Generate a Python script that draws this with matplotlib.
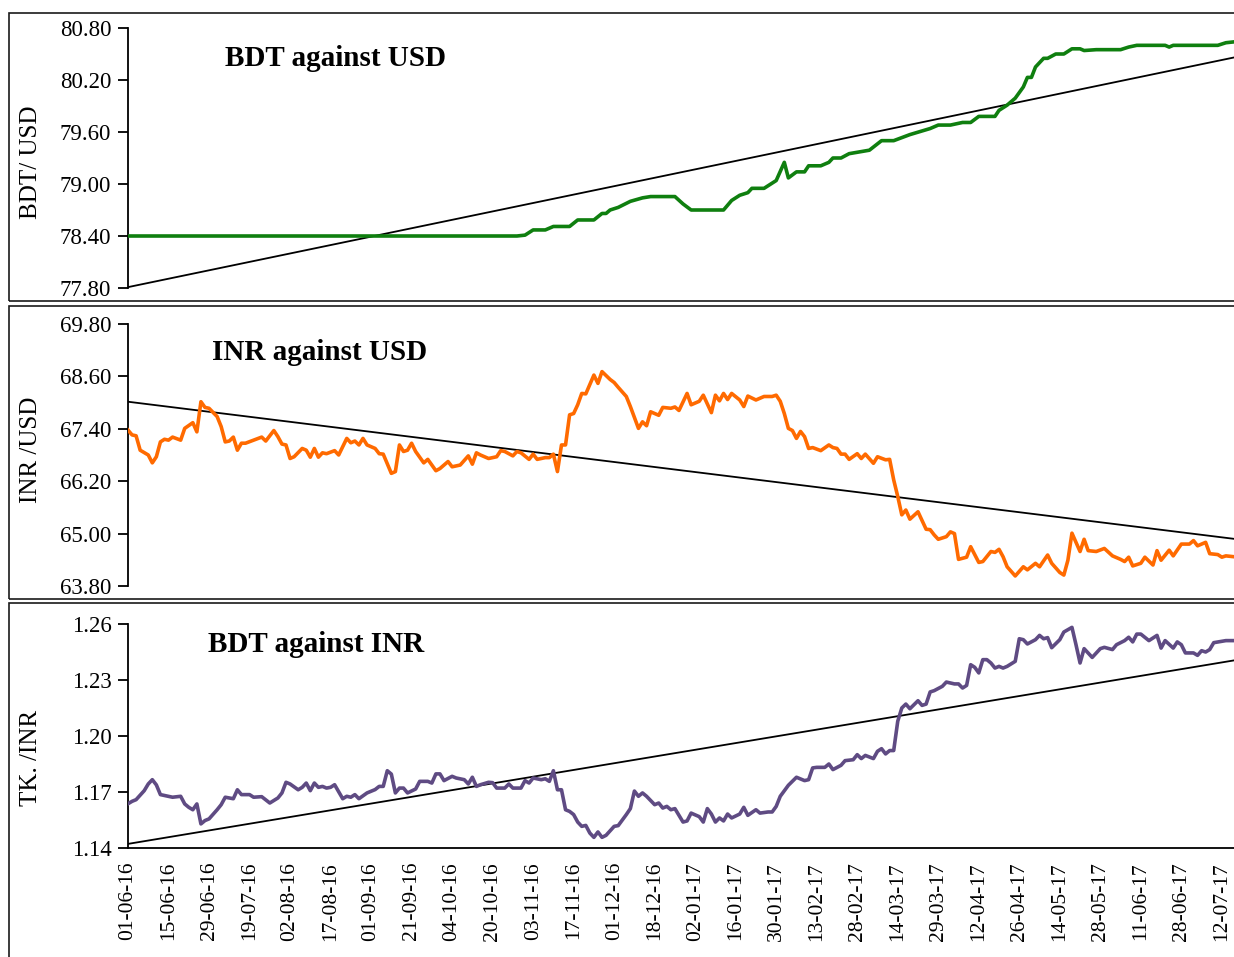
import matplotlib
matplotlib.use("Agg")
import matplotlib.pyplot as plt
from matplotlib.patches import Rectangle
from matplotlib.ticker import FormatStrFormatter

plt.rcParams['font.family'] = ['Liberation Serif', 'DejaVu Serif']

# ---------------- data ----------------
date_labels = ["01-06-16", "15-06-16", "29-06-16", "19-07-16", "02-08-16", "17-08-16",
               "01-09-16", "21-09-16", "04-10-16", "20-10-16", "03-11-16", "17-11-16",
               "01-12-16", "18-12-16", "02-01-17", "16-01-17", "30-01-17", "13-02-17",
               "28-02-17", "14-03-17", "29-03-17", "12-04-17", "26-04-17", "14-05-17",
               "28-05-17", "11-06-17", "28-06-17", "12-07-17"]
n_obs = 274  # observation index 0..273

# BDT against USD
bdt_usd_idx = [0, 96, 98, 100, 103, 105, 109, 111, 115, 117, 118, 119, 121, 124, 127, 129, 135, 137, 139, 147,
               149, 151, 153, 154, 157, 158, 160, 162, 163, 165, 167, 168, 171, 173, 174, 176, 178, 183, 186, 189,
               193, 198, 200, 203, 206, 208, 210, 214, 215, 217, 219, 221, 222, 223, 224, 226, 227, 229, 231, 233,
               235, 236, 239, 245, 247, 249, 256, 257, 258, 269, 271, 273]
bdt_usd_val = [78.40, 78.40, 78.41, 78.47, 78.47, 78.51, 78.51, 78.585, 78.585, 78.66, 78.66, 78.70, 78.73, 78.80,
               78.84, 78.855, 78.855, 78.77, 78.70, 78.70, 78.81, 78.87, 78.90, 78.95, 78.95, 78.98, 79.04, 79.25,
               79.07, 79.14, 79.14, 79.21, 79.21, 79.25, 79.30, 79.30, 79.35, 79.39, 79.50, 79.50, 79.57, 79.64,
               79.68, 79.68, 79.71, 79.71, 79.78, 79.78, 79.85, 79.91, 79.99, 80.12, 80.23, 80.23, 80.35, 80.45,
               80.45, 80.50, 80.50, 80.56, 80.56, 80.54, 80.55, 80.55, 80.58, 80.60, 80.60, 80.58, 80.60, 80.60,
               80.63, 80.64]
bdt_usd_trend = [77.81, 80.46]

# INR against USD
inr_usd_idx = [0, 1, 2, 3, 5, 6, 7, 8, 9, 10, 11, 13, 14, 16, 17, 18, 19, 20, 22, 23, 24, 25, 26, 27, 28, 29, 31, 33,
               34, 36, 37, 38, 39, 40, 41, 43, 44, 45, 46, 47, 48, 49, 51, 52, 54, 55, 56, 57, 58, 59, 61, 62, 63,
               65, 66, 67, 68, 69, 70, 71, 73, 74, 76, 77, 79, 80, 82, 84, 85, 86, 87, 89, 91, 92, 93, 95, 96, 97,
               99, 100, 101, 103, 104, 105, 106, 107, 108, 109, 110, 111, 112, 113, 115, 116, 117, 119, 120, 121,
               123, 124, 126, 127, 128, 129, 131, 132, 134, 135, 136, 138, 139, 141, 142, 144, 145, 146, 147, 148,
               149, 151, 152, 153, 155, 157, 159, 160, 161, 162, 163, 164, 165, 166, 167, 168, 169, 171, 173, 174,
               175, 176, 177, 178, 180, 181, 182, 184, 185, 187, 188, 189, 190, 191, 192, 193, 195, 197, 198, 199,
               200, 202, 203, 204, 205, 207, 208, 210, 211, 213, 214, 215, 216, 217, 219, 221, 222, 224, 225, 227,
               228, 230, 231, 232, 233, 235, 236, 237, 239, 241, 243, 245, 246, 247, 248, 250, 251, 253, 254, 255,
               257, 258, 260, 262, 263, 264, 266, 267, 269, 270, 271, 273]
inr_usd_val = [67.37, 67.26, 67.24, 66.91, 66.80, 66.62, 66.76, 67.10, 67.16, 67.14, 67.21, 67.14, 67.41, 67.54,
               67.33, 68.02, 67.89, 67.87, 67.68, 67.45, 67.10, 67.12, 67.21, 66.91, 67.07, 67.07, 67.14, 67.21,
               67.12, 67.36, 67.22, 67.05, 67.03, 66.72, 66.76, 66.95, 66.91, 66.75, 66.95, 66.75, 66.85, 66.83,
               66.90, 66.80, 67.18, 67.08, 67.12, 67.03, 67.18, 67.03, 66.95, 66.83, 66.82, 66.38, 66.42, 67.03,
               66.88, 66.91, 67.07, 66.88, 66.62, 66.70, 66.44, 66.49, 66.65, 66.53, 66.57, 66.78, 66.59, 66.85,
               66.80, 66.72, 66.76, 66.90, 66.88, 66.78, 66.88, 66.85, 66.70, 66.82, 66.70, 66.74, 66.74, 66.82,
               66.42, 67.03, 67.03, 67.72, 67.75, 67.95, 68.21, 68.20, 68.63, 68.44, 68.71, 68.53, 68.46, 68.35,
               68.14, 67.91, 67.41, 67.56, 67.47, 67.79, 67.71, 67.89, 67.87, 67.90, 67.82, 68.21, 67.95, 68.03,
               68.17, 67.77, 68.17, 68.04, 68.21, 68.07, 68.21, 68.06, 67.91, 68.15, 68.06, 68.14, 68.14, 68.17,
               68.03, 67.75, 67.41, 67.36, 67.18, 67.34, 67.22, 66.95, 66.97, 66.90, 67.03, 66.97, 66.95, 66.82,
               66.82, 66.70, 66.83, 66.72, 66.82, 66.61, 66.76, 66.69, 66.70, 66.23, 65.85, 65.43, 65.54, 65.33,
               65.50, 65.10, 65.09, 64.97, 64.87, 64.93, 65.04, 65.00, 64.41, 64.46, 64.70, 64.34, 64.36, 64.59,
               64.57, 64.64, 64.47, 64.24, 64.03, 64.24, 64.17, 64.32, 64.24, 64.51, 64.32, 64.11, 64.05, 64.39,
               65.01, 64.59, 64.87, 64.61, 64.59, 64.66, 64.49, 64.41, 64.36, 64.46, 64.26, 64.32, 64.46, 64.28,
               64.61, 64.39, 64.62, 64.49, 64.76, 64.76, 64.84, 64.72, 64.80, 64.54, 64.52, 64.46, 64.49, 64.47]
inr_usd_trend = [68.02, 64.88]

# BDT against INR
bdt_inr_idx = [0, 1, 2, 4, 5, 6, 7, 8, 10, 11, 13, 14, 15, 16, 17, 18, 19, 20, 22, 23, 24, 25, 26, 27, 28, 30, 31,
               33, 35, 37, 38, 39, 40, 42, 43, 44, 45, 46, 47, 48, 49, 50, 51, 53, 54, 55, 56, 57, 59, 61, 62, 63,
               64, 65, 66, 67, 68, 69, 71, 72, 74, 75, 76, 77, 78, 80, 81, 83, 84, 85, 86, 87, 89, 90, 91, 93, 94,
               95, 97, 98, 99, 100, 102, 103, 104, 105, 106, 107, 108, 109, 110, 111, 112, 113, 114, 115, 116, 117,
               118, 120, 121, 123, 124, 125, 126, 127, 128, 130, 131, 132, 133, 134, 135, 137, 138, 139, 141, 142,
               143, 144, 145, 146, 147, 148, 149, 151, 152, 153, 155, 156, 158, 159, 160, 161, 163, 165, 167, 168,
               169, 170, 172, 173, 174, 176, 177, 179, 180, 181, 182, 184, 185, 186, 187, 188, 189, 190, 191, 192,
               193, 195, 196, 197, 198, 199, 201, 202, 204, 205, 206, 207, 208, 209, 210, 211, 212, 213, 214, 215,
               216, 217, 219, 220, 221, 222, 224, 225, 226, 227, 228, 230, 231, 233, 234, 235, 236, 238, 240, 241,
               243, 244, 246, 247, 248, 249, 250, 252, 254, 255, 256, 258, 259, 260, 261, 263, 264, 265, 266, 267,
               268, 270, 271, 273]
bdt_inr_val = [1.1637, 1.1650, 1.1659, 1.1707, 1.1743, 1.1766, 1.1738, 1.1686, 1.1677, 1.1672, 1.1677, 1.1636,
               1.1618, 1.1605, 1.1636, 1.1529, 1.1547, 1.1556, 1.1605, 1.1632, 1.1672, 1.1668, 1.1664, 1.1712,
               1.1686, 1.1686, 1.1672, 1.1675, 1.1641, 1.1668, 1.1695, 1.1752, 1.1743, 1.1712, 1.1725, 1.1748,
               1.1707, 1.1748, 1.1725, 1.1730, 1.1721, 1.1725, 1.1739, 1.1664, 1.1677, 1.1672, 1.1686, 1.1664,
               1.1695, 1.1713, 1.1730, 1.1730, 1.1814, 1.1796, 1.1695, 1.1721, 1.1721, 1.1695, 1.1716, 1.1757,
               1.1757, 1.1748, 1.1797, 1.1797, 1.1761, 1.1784, 1.1775, 1.1766, 1.1743, 1.1779, 1.1730, 1.1739,
               1.1752, 1.1750, 1.1721, 1.1721, 1.1743, 1.1721, 1.1721, 1.1761, 1.1748, 1.1775, 1.1766, 1.1771,
               1.1757, 1.1814, 1.1712, 1.1712, 1.1605, 1.1596, 1.1579, 1.1539, 1.1516, 1.1521, 1.1480, 1.1457,
               1.1486, 1.1457, 1.1468, 1.1516, 1.1520, 1.1579, 1.1611, 1.1705, 1.1677, 1.1695, 1.1677, 1.1632,
               1.1641, 1.1614, 1.1623, 1.1605, 1.1611, 1.1539, 1.1545, 1.1587, 1.1568, 1.1539, 1.1611, 1.1582,
               1.1539, 1.1561, 1.1545, 1.1582, 1.1561, 1.1582, 1.1618, 1.1575, 1.1605, 1.1587, 1.1593, 1.1593,
               1.1623, 1.1677, 1.1736, 1.1779, 1.1761, 1.1766, 1.1829, 1.1832, 1.1832, 1.1850, 1.1820, 1.1843,
               1.1868, 1.1873, 1.1900, 1.1879, 1.1896, 1.1879, 1.1918, 1.1932, 1.1904, 1.1922, 1.1922, 1.2079,
               1.2150, 1.2171, 1.2146, 1.2189, 1.2164, 1.2171, 1.2236, 1.2243, 1.2266, 1.2289, 1.2279, 1.2279,
               1.2257, 1.2271, 1.2382, 1.2368, 1.2338, 1.2409, 1.2409, 1.2391, 1.2364, 1.2373, 1.2364, 1.2373,
               1.2400, 1.2521, 1.2516, 1.2493, 1.2516, 1.2539, 1.2521, 1.2527, 1.2473, 1.2516, 1.2557, 1.2582,
               1.2489, 1.2391, 1.2468, 1.2421, 1.2468, 1.2475, 1.2463, 1.2489, 1.2511, 1.2529, 1.2504, 1.2546,
               1.2546, 1.2511, 1.2539, 1.2471, 1.2511, 1.2471, 1.2504, 1.2489, 1.2445, 1.2445, 1.2432, 1.2457,
               1.2450, 1.2463, 1.2500, 1.2507, 1.2511, 1.2511]
bdt_inr_trend = [1.1422, 1.2405]

assert len(bdt_usd_idx) == len(bdt_usd_val)
assert len(inr_usd_idx) == len(inr_usd_val)
assert len(bdt_inr_idx) == len(bdt_inr_val)

# ---------------- layout ----------------
W, H = 1234, 957
fig = plt.figure(figsize=(W / 100, H / 100), dpi=100)


def fx(px):
    return px / W


def fy(py):
    return 1 - py / H


# panel frames
for top, bot in [(12.7, 300.5), (306, 599), (603, 975)]:
    fig.patches.append(Rectangle((fx(9), fy(bot)), fx(1260) - fx(9), fy(top) - fy(bot),
                                 transform=fig.transFigure, fill=False,
                                 edgecolor='#1a1a1a', lw=1.2))

panels = [
    dict(top=28, bot=288, idx=bdt_usd_idx, val=bdt_usd_val, trend=bdt_usd_trend,
         color='#0F7F0F', lim=(77.80, 80.80), ticks=[77.80, 78.40, 79.00, 79.60, 80.20, 80.80],
         title='BDT against USD', tx=225, ty=58, ylabel='BDT/ USD', ly=162),
    dict(top=324, bot=586, idx=inr_usd_idx, val=inr_usd_val, trend=inr_usd_trend,
         color='#FF6A00', lim=(63.80, 69.80), ticks=[63.80, 65.00, 66.20, 67.40, 68.60, 69.80],
         title='INR against USD', tx=212, ty=352, ylabel='INR /USD', ly=450),
    dict(top=624, bot=848, idx=bdt_inr_idx, val=bdt_inr_val, trend=bdt_inr_trend,
         color='#5F4B83', lim=(1.14, 1.26), ticks=[1.14, 1.17, 1.20, 1.23, 1.26],
         title='BDT against INR', tx=208, ty=645, ylabel='TK. /INR', ly=758),
]

for i, p in enumerate(panels):
    ax = fig.add_axes([fx(128), fy(p['bot']), fx(1234) - fx(128), fy(p['top']) - fy(p['bot'])])
    ax.set_facecolor('none')
    ax.plot(p['idx'], p['val'], color=p['color'], lw=2.6, solid_joinstyle='round', zorder=3)
    ax.plot([0, n_obs - 1], p['trend'], color='black', lw=1.3, zorder=2)
    ax.set_xlim(0, n_obs - 1)
    ax.set_ylim(*p['lim'])
    ax.set_yticks(p['ticks'])
    ax.yaxis.set_major_formatter(FormatStrFormatter('%.2f'))
    for s in ['top', 'right']:
        ax.spines[s].set_visible(False)
    ax.spines['left'].set_linewidth(1.3)
    ax.spines['bottom'].set_linewidth(1.3)
    ax.tick_params(axis='y', direction='out', length=7, width=1.3, labelsize=16.5, pad=5)
    if i < 2:
        ax.spines['bottom'].set_visible(False)
        ax.set_xticks([])
    else:
        ax.set_xticks(list(range(0, n_obs, 10)))
        ax.set_xticklabels(date_labels, rotation=90, fontsize=15.5)
        ax.tick_params(axis='x', length=0, pad=10)
    fig.text(fx(p['tx']), fy(p['ty']), p['title'], fontsize=21, fontweight='bold',
             ha='left', va='center')
    fig.text(fx(31), fy(p['ly']), p['ylabel'], fontsize=18, rotation=90,
             ha='center', va='center')

fig.savefig('out.png', dpi=100)
